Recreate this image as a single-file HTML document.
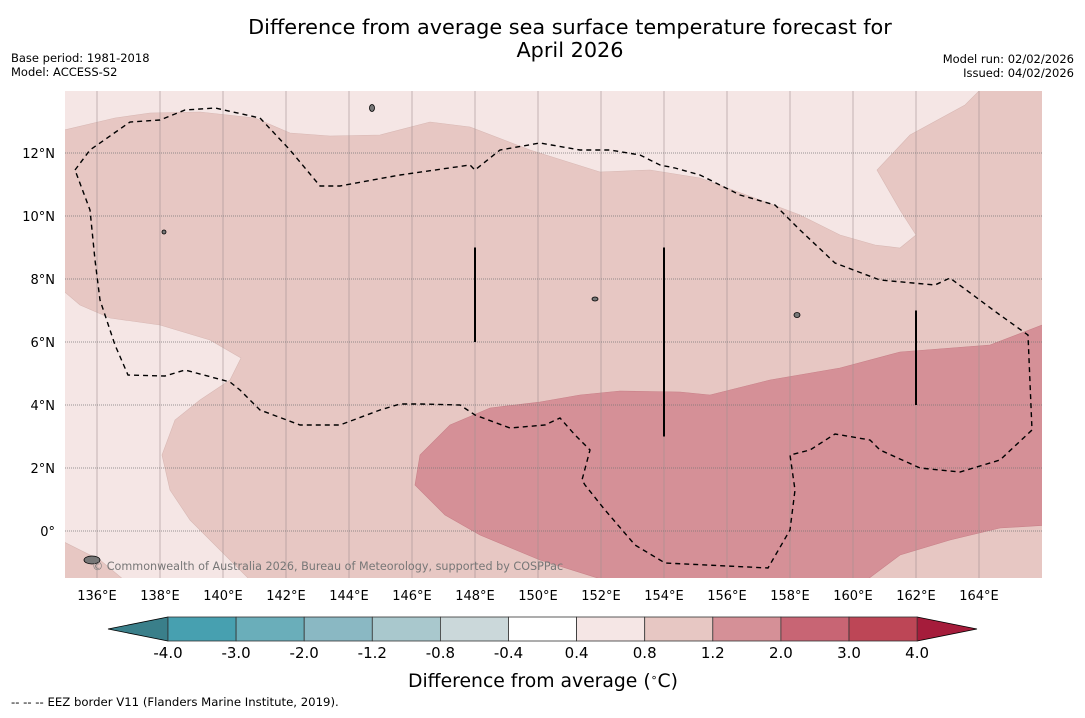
<!DOCTYPE html>
<html><head><meta charset="utf-8"><style>
body{margin:0;background:#fff;width:1085px;height:713px;overflow:hidden;font-family:"Liberation Sans","DejaVu Sans",sans-serif}
svg text{font-family:"DejaVu Sans","Liberation Sans",sans-serif}
</style></head><body>
<svg id="c" width="1085" height="713">
<text x="570" y="34" text-anchor="middle" font-size="20.8">Difference from average sea surface temperature forecast for</text>
<text x="570" y="57" text-anchor="middle" font-size="20.8">April 2026</text>
<text x="11" y="62" font-size="11.5">Base period: 1981-2018</text>
<text x="11" y="76" font-size="11.5">Model: ACCESS-S2</text>
<text x="1074" y="63" font-size="11.5" text-anchor="end">Model run: 02/02/2026</text>
<text x="1074" y="77" font-size="11.5" text-anchor="end">Issued: 04/02/2026</text>
<defs><clipPath id="mc"><rect x="65" y="91" width="977" height="487"/></clipPath></defs>
<g id="map" clip-path="url(#mc)"></g>
<g id="ax"></g>
<g id="cb"></g>
<text x="543" y="687" text-anchor="middle" font-size="18.8">Difference from average (<tspan baseline-shift="super" font-size="11">∘</tspan>C)</text>
<text x="11" y="706" font-size="11.7">--  --  -- EEZ border V11 (Flanders Marine Institute, 2019).</text>
</svg>
<script>
const NS="http://www.w3.org/2000/svg";
const lonTicks=[136,138,140,142,144,146,148,150,152,154,156,158,160,162,164];
const latTicks=[0,2,4,6,8,10,12];
const levels=[-4.0,-3.0,-2.0,-1.2,-0.8,-0.4,0.4,0.8,1.2,2.0,3.0,4.0];
const levelColors=["#47a0b0","#6aaeba","#8ab8c3","#a9c8cd","#cbd8da","#ffffff","#f5e6e5","#e7c7c3","#d59097","#c86574","#bd4656"];
const toLL=p=>p.map(([x,y])=>[135+(x-65.5)/31.5,(531-y)/31.5]);
const mediumPoly=toLL([[60,85],[1050,85],[1050,585],[60,585]]);
const lightTop=toLL([[60,85],[60,131],[115,118],[150,113],[200,112],[255,118],[290,133],[330,136],[380,135],[430,122],[470,127],[530,150],[600,172],[650,170],[700,178],[760,200],[800,215],[840,235],[875,245],[900,248],[916,235],[900,210],[877,170],[910,135],[965,105],[985,85]]);
const lightLeft=toLL([[60,288],[80,305],[110,318],[160,325],[210,340],[241,358],[230,380],[200,400],[175,420],[162,455],[170,490],[190,520],[220,550],[255,585],[130,585],[100,560],[60,540]]);
const darkPoly=toLL([[415,485],[420,455],[450,425],[490,408],[540,402],[580,395],[620,391],[680,392],[710,395],[770,380],[840,368],[900,352],[990,345],[1050,322],[1050,525],[1000,528],[950,540],[900,555],[860,585],[620,585],[540,560],[480,535],[445,515]]);
const eez=toLL([[75,170],[90,150],[130,122],[160,120],[185,110],[215,108],[260,118],[290,150],[320,186],[340,186],[400,175],[470,165],[475,170],[500,150],[540,143],[580,150],[610,150],[640,155],[660,165],[675,168],[700,175],[740,195],[775,205],[800,230],[835,263],[880,280],[935,285],[950,278],[1000,315],[1028,335],[1032,430],[1000,460],[960,472],[920,468],[880,450],[870,440],[835,434],[810,450],[790,455],[795,490],[790,530],[768,568],[665,563],[635,545],[605,510],[585,485],[582,480],[590,450],[575,435],[560,418],[545,425],[510,428],[475,415],[460,405],[420,404],[400,404],[380,410],[340,425],[300,425],[260,410],[240,390],[230,382],[185,370],[165,376],[128,375],[115,345],[100,300],[95,260],[90,210],[75,170]]);
const bars=[[148,9,6],[154,9,3],[162,7,4]];
const X=lon=>65.5+(lon-135)*31.5, Y=lat=>531-lat*31.5;
const map=document.getElementById('map'),ax=document.getElementById('ax'),cb=document.getElementById('cb');
function el(t,a,p){const e=document.createElementNS(NS,t);for(const k in a)e.setAttribute(k,a[k]);p.appendChild(e);return e;}
function pts(p){return p.map(([lo,la])=>X(lo).toFixed(1)+','+Y(la).toFixed(1)).join(' ');}
let e;
e=el('polygon',{points:pts(mediumPoly),fill:levelColors[7]},map);


e=el('polygon',{points:pts(lightTop),fill:levelColors[6],stroke:'#d8b8b4','stroke-width':0.6},map);


e=el('polygon',{points:pts(lightLeft),fill:levelColors[6],stroke:'#d8b8b4','stroke-width':0.6},map);


e=el('polygon',{points:pts(darkPoly),fill:levelColors[8],stroke:'#c88088','stroke-width':0.6},map);


lonTicks.forEach(l=>{
 e=el('line',{x1:X(l),x2:X(l),y1:91,y2:578,stroke:'#a09090','stroke-width':0.6},map);
 
 
});
latTicks.forEach(l=>{
 e=el('line',{x1:65,x2:1042,y1:Y(l),y2:Y(l),stroke:'#777','stroke-width':0.8,'stroke-dasharray':'1,1'},map);
 
 
});
e=el('polyline',{points:pts(eez),fill:'none',stroke:'#000','stroke-width':1.4,'stroke-dasharray':'5,4'},map);


bars.forEach(b=>{
 e=el('line',{x1:X(b[0]),x2:X(b[0]),y1:Y(b[1]),y2:Y(b[2]),stroke:'#000','stroke-width':2},map);
 
 
});
[[92,560,14,6],[372,108,3,5],[797,315,4,3],[595,299,4,2],[164,232,2,2]].forEach(i=>{
 e=el('ellipse',{cx:i[0],cy:i[1],rx:i[2]/2+1,ry:i[3]/2+1,fill:'#777',stroke:'#000','stroke-width':0.8},map);
 
 
});
e=el('text',{x:92,y:570,'font-size':11.2,fill:'#777'},map);e.textContent='© Commonwealth of Australia 2026, Bureau of Meteorology, supported by COSPPac';


lonTicks.forEach(l=>{
 e=el('text',{x:X(l),y:600,'text-anchor':'middle','font-size':13},ax);e.textContent=l+'°E';
 
 
});
latTicks.forEach(l=>{
 e=el('text',{x:55,y:Y(l)+5,'text-anchor':'end','font-size':13},ax);e.textContent=(l===0?'0°':l+'°N');
 
 
});
const cbX=i=>168+i*68.1, cy0=617, cy1=641;
e=el('polygon',{points:`108,629 168,${cy0} 168,${cy1}`,fill:'#3a7f8a',stroke:'#000','stroke-width':0.8},cb);


e=el('polygon',{points:`${cbX(11)},${cy0} 977,629 ${cbX(11)},${cy1}`,fill:'#a51c3b',stroke:'#000','stroke-width':0.8},cb);


levelColors.forEach((c,i)=>{
 e=el('rect',{x:cbX(i),y:cy0,width:68.1,height:cy1-cy0,fill:c,stroke:'#333','stroke-width':0.8},cb);
 
 
});
levels.forEach((v,i)=>{
 e=el('text',{x:cbX(i),y:658,'text-anchor':'middle','font-size':15},cb);e.textContent=v.toFixed(1);
 
 
});
</script>
</body></html>
